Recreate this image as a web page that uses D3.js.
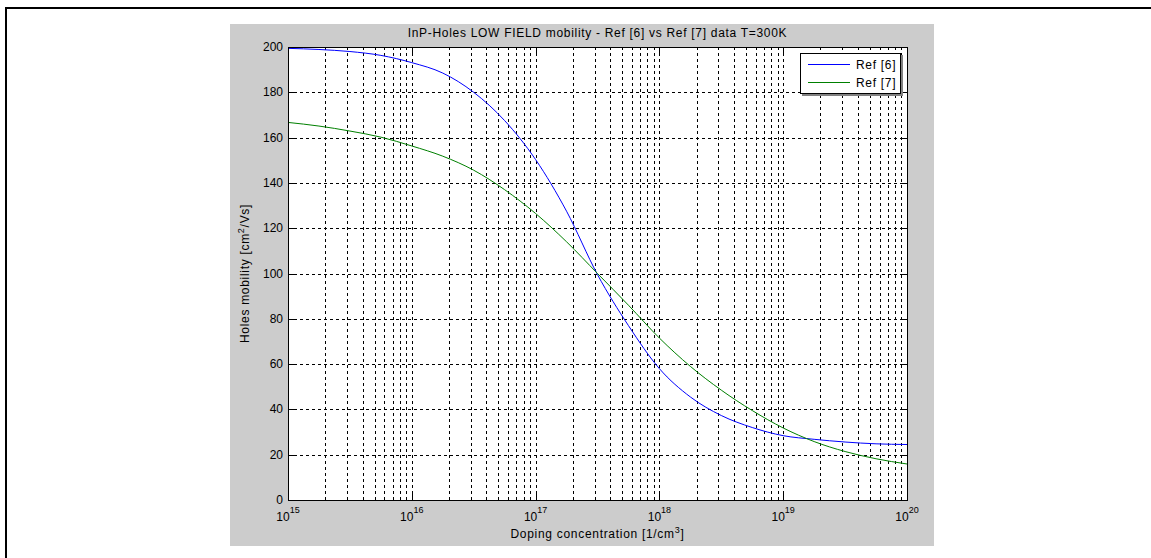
<!DOCTYPE html>
<html>
<head>
<meta charset="utf-8">
<script src="https://cdn.jsdelivr.net/npm/d3@7"></script>
<style>
	body { margin: 0; background: #fff; }
	text { font-family: "Liberation Sans", Arial, sans-serif; fill: #000; }
	.wide { letter-spacing: 0.7px; }
</style>
</head>
<body>
<div id="chart"></div>
<script>
'use strict'
// doping exponents, log10(N)
var exponents = [15, 15.25, 15.5, 15.75, 16, 16.25, 16.5, 16.75, 17, 17.25, 17.5,
	17.75, 18, 18.25, 18.5, 18.75, 19, 19.25, 19.5, 19.75, 20];
var ref6 = [199.4, 198.9, 198.0, 196.3, 193.1, 188.5, 180.0, 167.5, 150.3, 127.5, 99.5,
	77.0, 58.0, 45.5, 37.3, 32.0, 28.4, 26.8, 25.6, 24.8, 24.5];
var ref7 = [166.7, 165.1, 162.9, 160.2, 156.3, 151.8, 145.6, 137.0, 126.5, 114.0, 100.0,
	86.0, 71.5, 59.0, 48.5, 39.5, 31.8, 25.8, 21.4, 18.2, 15.9];
var seriesNames = ["Ref [6]", "Ref [7]"];
var seriesColors = ["#0000ff", "#008000"];
var xDecades = [15, 16, 17, 18, 19, 20];
var yTicks = [0, 20, 40, 60, 80, 100, 120, 140, 160, 180, 200];
var titleText = "InP-Holes LOW FIELD mobility - Ref [6] vs Ref [7] data T=300K";

var W = 1151, H = 558;
var box = {left: 288, right: 907, top: 47, bottom: 500};

var svg = d3.select("#chart").append("svg")
	.attr("width", W).attr("height", H);

// outer frame of the page
svg.append("path")
	.attr("d", "M6," + H + "V8H" + W)
	.attr("fill", "none").attr("stroke", "#000").attr("stroke-width", 2);

// figure background
svg.append("rect")
	.attr("x", 230).attr("y", 24).attr("width", 704).attr("height", 522)
	.attr("fill", "#cccccc");

svg.append("rect")
	.attr("x", box.left).attr("y", box.top)
	.attr("width", box.right - box.left).attr("height", box.bottom - box.top)
	.attr("fill", "#fff");

var x = d3.scaleLog().domain([1e15, 1e20]).range([box.left, box.right]);
var y = d3.scaleLinear().domain([0, 200]).range([box.bottom, box.top]);

// all x grid positions: decades plus 2..9 minors
var xGrid = [];
xDecades.forEach(function(d, i) {
	if (i < xDecades.length - 1) {
		for (var k = 1; k <= 9; k++) xGrid.push({v: k * Math.pow(10, d), major: k === 1});
	}
});
xGrid.push({v: 1e20, major: true});

var grid = svg.append("g").attr("class", "grid")
	.attr("stroke", "#000").attr("stroke-width", 1)
	.attr("stroke-dasharray", "3,3").attr("shape-rendering", "crispEdges");
grid.selectAll("line.vx")
	.data(xGrid.filter(function(d) { return d.v > 1e15 && d.v < 1e20; }))
	.enter().append("line")
	.attr("class", "vx")
	.attr("x1", function(d) { return Math.round(x(d.v)) + 0.5; })
	.attr("x2", function(d) { return Math.round(x(d.v)) + 0.5; })
	.attr("y1", box.top).attr("y2", box.bottom);
grid.selectAll("line.hy")
	.data(yTicks.filter(function(d) { return d > 0 && d < 200; }))
	.enter().append("line")
	.attr("class", "hy")
	.attr("y1", function(d) { return Math.round(y(d)) + 0.5; })
	.attr("y2", function(d) { return Math.round(y(d)) + 0.5; })
	.attr("x1", box.left).attr("x2", box.right);

// tick marks (inside, on all four sides)
var ticks = svg.append("g").attr("stroke", "#000").attr("stroke-width", 1)
	.attr("shape-rendering", "crispEdges");
xGrid.forEach(function(d) {
	var px = Math.round(x(d.v)) + 0.5;
	var len = d.major ? 6 : 3;
	ticks.append("line").attr("x1", px).attr("x2", px)
		.attr("y1", box.bottom).attr("y2", box.bottom - len);
	ticks.append("line").attr("x1", px).attr("x2", px)
		.attr("y1", box.top).attr("y2", box.top + len);
});
yTicks.forEach(function(v) {
	var py = Math.round(y(v)) + 0.5;
	ticks.append("line").attr("x1", box.left).attr("x2", box.left + 6)
		.attr("y1", py).attr("y2", py);
	ticks.append("line").attr("x1", box.right).attr("x2", box.right - 6)
		.attr("y1", py).attr("y2", py);
});

// curves
var series = [ref6, ref7];
var line = d3.line()
	.x(function(d) { return x(Math.pow(10, d[0])); })
	.y(function(d) { return y(d[1]); })
	.curve(d3.curveMonotoneX);
series.forEach(function(s, i) {
	svg.append("path")
		.datum(exponents.map(function(e, j) { return [e, s[j]]; }))
		.attr("fill", "none")
		.attr("stroke", seriesColors[i])
		.attr("stroke-width", 1)
		.attr("d", line);
});

// axes box
svg.append("rect")
	.attr("x", box.left + 0.5).attr("y", box.top + 0.5)
	.attr("width", box.right - box.left).attr("height", box.bottom - box.top)
	.attr("fill", "none").attr("stroke", "#000").attr("shape-rendering", "crispEdges");

// y tick labels
svg.append("g").selectAll("text")
	.data(yTicks).enter().append("text")
	.attr("x", box.left - 5)
	.attr("y", function(d) { return y(d) + 4; })
	.attr("text-anchor", "end")
	.style("font-size", "12px")
	.text(function(d) { return d; });

// x tick labels 10^n
xDecades.forEach(function(d) {
	var t = svg.append("text")
		.attr("x", x(Math.pow(10, d)))
		.attr("y", 521)
		.attr("text-anchor", "middle")
		.style("font-size", "12px");
	t.append("tspan").text("10");
	t.append("tspan").attr("dy", -8).style("font-size", "9px").text(d);
});

// title and axis labels
svg.append("text")
	.attr("class", "wide")
	.attr("x", (box.left + box.right) / 2).attr("y", 37)
	.attr("text-anchor", "middle")
	.style("font-size", "12px")
	.text(titleText);

var xl = svg.append("text")
	.attr("class", "wide")
	.attr("x", (box.left + box.right) / 2).attr("y", 538)
	.attr("text-anchor", "middle")
	.style("font-size", "12px");
xl.append("tspan").text("Doping concentration [1/cm");
xl.append("tspan").attr("dy", -5).style("font-size", "9px").text("3");
xl.append("tspan").attr("dy", 5).text("]");

var yl = svg.append("text")
	.attr("class", "wide")
	.attr("transform", "translate(249," + ((box.top + box.bottom) / 2) + ") rotate(-90)")
	.attr("text-anchor", "middle")
	.style("font-size", "12px");
yl.append("tspan").text("Holes mobility [cm");
yl.append("tspan").attr("dy", -5).style("font-size", "9px").text("2");
yl.append("tspan").attr("dy", 5).text("/Vs]");

// legend
var lg = svg.append("g").attr("transform", "translate(800,53)");
lg.append("rect").attr("x", 1.5).attr("y", 1.5).attr("width", 101).attr("height", 41)
	.attr("fill", "#808080").attr("shape-rendering", "crispEdges");
lg.append("rect").attr("x", 0.5).attr("y", 0.5).attr("width", 100).attr("height", 40)
	.attr("fill", "#fff").attr("stroke", "#000").attr("shape-rendering", "crispEdges");
seriesNames.forEach(function(name, i) {
	var ly = 11 + i * 18;
	lg.append("line").attr("x1", 8).attr("x2", 50).attr("y1", ly + 0.5).attr("y2", ly + 0.5)
		.attr("stroke", seriesColors[i]);
	lg.append("text").attr("class", "wide").attr("x", 56).attr("y", ly + 4.5)
		.style("font-size", "12px").text(name);
});
</script>
</body>
</html>
